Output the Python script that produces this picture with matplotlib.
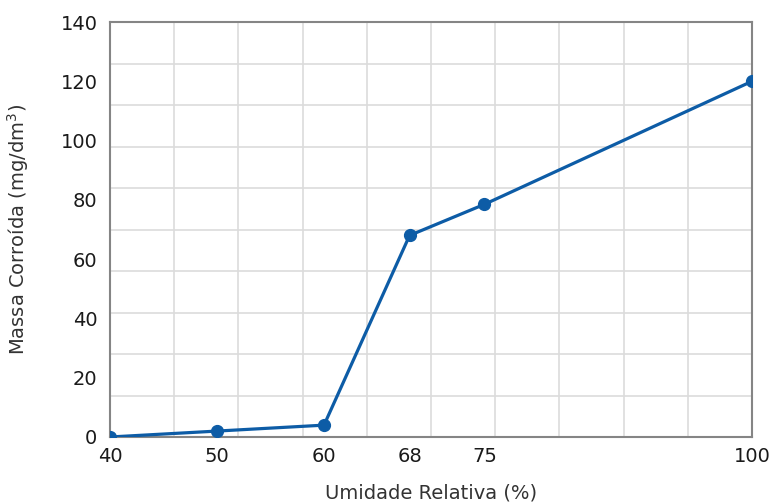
import matplotlib.pyplot as plt
from matplotlib.ticker import MultipleLocator

# umidade relativa (%) x massa corroida (mg/dm3)
umidade = [40, 50, 60, 68, 75, 100]
massa = [0, 2, 4, 68, 78.5, 120]
x_ticks = [40, 50, 60, 68, 75, 100]
y_ticks = [0, 20, 40, 60, 80, 100, 120, 140]

fig = plt.figure(figsize=(7.76, 5.04), dpi=100)
ax = fig.add_axes([110/776, 1 - 437/504, 642/776, 415/504])

ax.plot(umidade, massa, color='#0d5ca6', lw=2.3, marker='o', ms=8.5, zorder=3)

ax.set_xlim(40, 100)
ax.set_ylim(0, 140)
ax.set_xticks(x_ticks)
ax.set_yticks(y_ticks)
# grade em 10 divisoes, independente dos rotulos
ax.xaxis.set_minor_locator(MultipleLocator(6, offset=4))
ax.yaxis.set_minor_locator(MultipleLocator(14))
ax.grid(True, which='minor', color='#dcdcdc', lw=1.2)
ax.grid(False, which='major')
ax.tick_params(which='both', length=0)
ax.tick_params(axis='x', pad=7, labelsize=14, colors='#1a1a1a')
ax.tick_params(axis='y', pad=9, labelsize=14, colors='#1a1a1a')

for s in ax.spines.values():
    s.set_color('#858585')
    s.set_linewidth(1.5)

ax.set_xlabel('Umidade Relativa (%)', fontsize=14, color='#333333', labelpad=13)
ax.set_ylabel('Massa Corroída (mg/dm$^3$)', fontsize=14, color='#333333', labelpad=21)

fig.savefig('out.png', dpi=100)
